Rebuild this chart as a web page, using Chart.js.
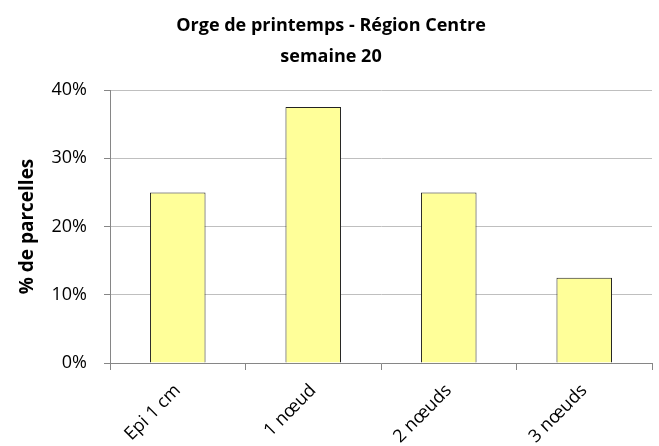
<!DOCTYPE html>
<html>
<head>
<meta charset="utf-8">
<script src="https://cdn.jsdelivr.net/npm/chart.js@4/dist/chart.umd.min.js"></script>
<style>
  html, body { margin: 0; padding: 0; background: #fff; }
  #wrap { width: 659px; height: 446px; }
</style>
</head>
<body>
<div id="wrap"><canvas id="myChart" width="659" height="446"></canvas></div>
<script>
let labels = ['Epi 1 cm', '1 nœud', '2 nœuds', '3 nœuds'];
let values = [25, 37.5, 25, 12.5];
let yTicks = [0, 10, 20, 30, 40];

let font = "'Open Sans', 'Liberation Sans', sans-serif";

let data = {
    labels: labels,
    datasets: [{
        label: '% de parcelles',
        backgroundColor: '#FFFF99',
        borderColor: '#222222',
        borderWidth: 1,
        barPercentage: 0.41,
        categoryPercentage: 1,
        data: values,
    }]
};

let config = {
    type: 'bar',
    data: data,
    options: {
        responsive: false,
        animation: false,
        layout: {
            padding: { top: 10, left: 10, right: 7, bottom: 0 }
        },
        plugins: {
            legend: { display: false },
            tooltip: { enabled: false },
            title: {
                display: true,
                text: ['Orge de printemps - Région Centre', 'semaine 20'],
                color: '#000',
                font: { family: font, size: 18, weight: 'bold', lineHeight: 1.75 },
                padding: { top: 0, bottom: 17 }
            }
        },
        scales: {
            x: {
                afterFit: function (scale) { scale.height = 83; },
                grid: {
                    display: true,
                    drawOnChartArea: false,
                    drawTicks: true,
                    tickLength: 7,
                    color: '#868686',
                    offset: true
                },
                border: { color: '#868686' },
                ticks: {
                    color: '#000',
                    maxRotation: 45,
                    minRotation: 45,
                    font: { family: font, size: 18 },
                    padding: 10
                }
            },
            y: {
                min: 0,
                max: 40,
                afterFit: function (scale) { scale.width = 100; },
                afterBuildTicks: function (axis) {
                    axis.ticks = yTicks.map(v => ({ value: v }));
                },
                grid: {
                    color: '#BFBFBF',
                    drawTicks: true,
                    tickLength: 6,
                    tickColor: '#868686'
                },
                border: { color: '#868686' },
                ticks: {
                    color: '#000',
                    font: { family: font, size: 18 },
                    padding: 17,
                    callback: v => v + '%'
                },
                title: {
                    display: true,
                    text: '% de parcelles',
                    color: '#000',
                    font: { family: font, size: 19, weight: 'bold' },
                    padding: { top: 6, bottom: 0 }
                }
            }
        }
    }
};

let myChart = new Chart(document.getElementById('myChart'), config);
</script>
</body>
</html>
